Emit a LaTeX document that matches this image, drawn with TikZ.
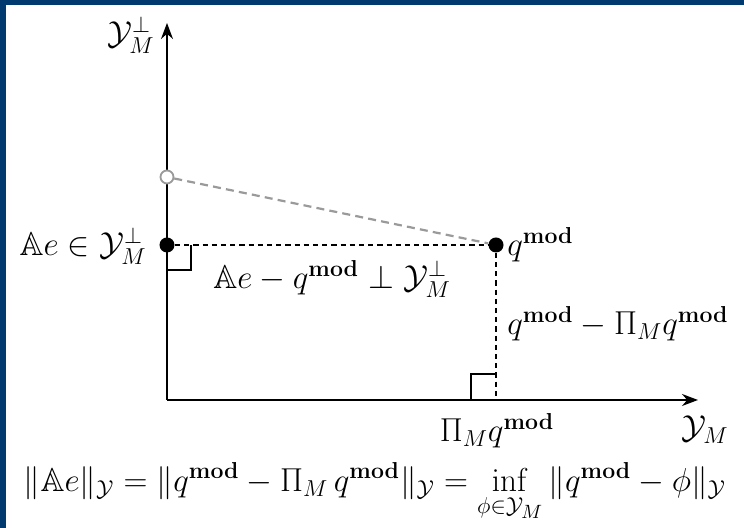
\documentclass[tikz,border=0pt]{standalone}
\usepackage{amsmath,amssymb}
\usepackage{tikz}
\usetikzlibrary{arrows.meta,positioning,calc}
\definecolor{frameBlue}{HTML}{003A6E}
\definecolor{ghostGray}{HTML}{9A9A9A}
\newcommand{\qmod}{q^{\mathbf{mod}}}

\begin{document}
\begin{tikzpicture}[x=0.5pt, y=0.5pt, font=\LARGE,
  dot/.style={circle, fill, inner sep=0pt, minimum size=7.5pt},
  hollow/.style={circle, draw=ghostGray, fill=white, line width=0.9pt, inner sep=0pt, minimum size=6.5pt},
  axis/.style={line width=0.8pt, -{Stealth[length=8pt, width=6pt]}},
  gapline/.style={line width=1.1pt, dash pattern=on 2.6pt off 2pt},
  lab/.style={inner sep=0pt, scale=0.96, transform shape}]
% frame
\fill[white] (-167,-128) rectangle (577,400);
\fill[frameBlue] (-167,395) rectangle (577,400);
\fill[frameBlue] (-167,-128) rectangle (-161,400);
% axes
\coordinate (O) at (0,0);
\coordinate (yend) at (0,377);
\coordinate (xend) at (531,0);
\coordinate (proj) at (329,0);
\draw[axis] (O) -- (yend);
\draw[axis] (O) -- (xend);
% points
\node[hollow] (old) at (0,223) {};
\node[dot] (Ae) at (0,155) {};
\node[dot] (q) at (329,155) {};
\draw[gapline, ghostGray, dash pattern=on 4pt off 2.6pt] (old) -- (q);
\draw[gapline] (Ae) -- (q);
\draw[gapline] (q) -- (proj);
% right angles
\draw[line width=0.6pt] ($(Ae.center)+(0,-25)$) -| ($(Ae.center)+(24,0)$);
\draw[line width=0.6pt] ($(proj)+(-25,0)$) |- ($(proj)+(0,26)$);
% labels
\node[lab, anchor=east] (ylab) at (-12,365) {$\mathcal{Y}_M^{\perp}$};
\node[lab, anchor=east] (AeLab) at (-20,154) {$\mathbb{A}e \in \mathcal{Y}_M^{\perp}$};
\node[lab] (perpLab) at (165,121) {$\mathbb{A}e - \qmod \perp \mathcal{Y}_M^{\perp}$};
\node[lab, anchor=west] (qLab) at (340,155) {$\qmod$};
\node[lab, anchor=west] (gapLab) at (340,76) {$\qmod - \Pi_M \qmod$};
\node[lab] (projLab) at (330,-31) {$\Pi_M \qmod$};
\node[lab] (xlab) at (538,-30) {$\mathcal{Y}_M$};
\node[lab] (normEq) at (208,-92) {$\displaystyle \|\mathbb{A}e\|_{\mathcal{Y}} = \|\qmod - \Pi_M\, \qmod\|_{\mathcal{Y}} = \inf_{\phi\in\mathcal{Y}_M} \|\qmod - \phi\|_{\mathcal{Y}}$};
\end{tikzpicture}
\end{document}
